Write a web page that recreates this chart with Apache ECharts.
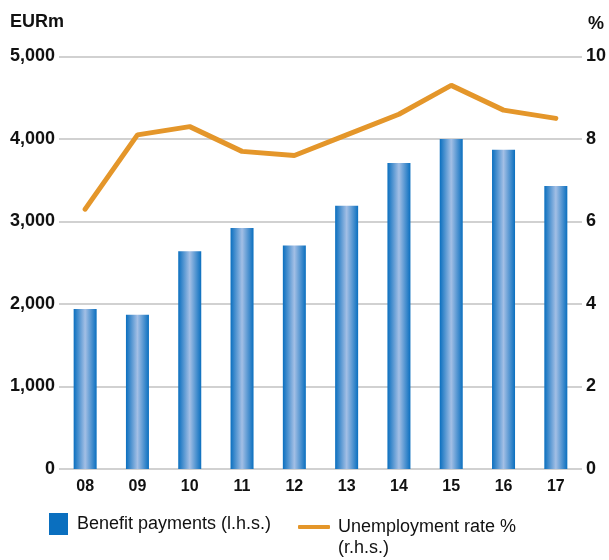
<!DOCTYPE html>
<html>
<head>
<meta charset="utf-8">
<script src="https://cdn.jsdelivr.net/npm/echarts@6/dist/echarts.min.js"></script>
<style>
html,body{margin:0;padding:0;background:#fff;}
#chart{width:609px;height:560px;}
</style>
</head>
<body>
<div id="chart"></div>
<script>
// data
var years = ['08', '09', '10', '11', '12', '13', '14', '15', '16', '17'];
var benefitPayments = [1940, 1870, 2640, 2920, 2710, 3190, 3710, 4000, 3870, 3430]; // EURm, l.h.s.
var unemploymentRate = [6.3, 8.1, 8.3, 7.7, 7.6, 8.1, 8.6, 9.3, 8.7, 8.5];      // %, r.h.s.
var leftTicks = [0, 1000, 2000, 3000, 4000, 5000];
var rightTicks = [0, 2, 4, 6, 8, 10];

var FONT = '"Liberation Sans", Arial, sans-serif';
var BLUE = '#0a6fbf';
var ORANGE = '#e4962a';
var INK = '#111';

function thousands(v) {
	return String(v).replace(/\B(?=(\d{3})+(?!\d))/g, ',');
}

var chart = echarts.init(document.getElementById('chart'));
var option = {
	animation: false,
	backgroundColor: '#fff',
	grid: { left: 59, right: 26, top: 56.5, bottom: 91, containLabel: false },
	legend: [
		{
			data: [{ name: 'Benefit payments (l.h.s.)', itemStyle: { color: BLUE } }],
			left: 49, top: 513, padding: 0,
			itemWidth: 19, itemHeight: 22,
			icon: 'rect',
			textStyle: { fontFamily: FONT, fontSize: 18, color: INK, padding: [0, 0, 0, 4] }
		},
		{
			data: ['Unemployment rate %'],
			left: 298, top: 518, padding: 0,
			itemWidth: 32, itemHeight: 4,
			icon: 'roundRect',
			textStyle: { fontFamily: FONT, fontSize: 18, color: INK, padding: [0, 0, 0, 3] }
		}
	],
	graphic: [
		{ type: 'text', left: 10, top: 13, style: { text: 'EURm', fontFamily: FONT, fontSize: 18, fontWeight: 'bold', fill: INK } },
		{ type: 'text', left: 588, top: 15, style: { text: '%', fontFamily: FONT, fontSize: 18, fontWeight: 'bold', fill: INK } },
		{ type: 'text', left: 338, top: 539, style: { text: '(r.h.s.)', fontFamily: FONT, fontSize: 18, fill: INK } }
	],
	xAxis: {
		type: 'category',
		data: years,
		axisLine: { show: false },
		axisTick: { show: false },
		axisLabel: { margin: 10, fontFamily: FONT, fontSize: 16, fontWeight: 'bold', color: INK }
	},
	yAxis: [
		{
			type: 'value',
			min: leftTicks[0], max: leftTicks[leftTicks.length - 1], interval: leftTicks[1] - leftTicks[0],
			axisLine: { show: false },
			axisTick: { show: false },
			splitLine: { lineStyle: { color: '#c2c2c2', width: 1.5 } },
			axisLabel: { margin: 4, fontFamily: FONT, fontSize: 18, fontWeight: 'bold', color: INK, formatter: thousands }
		},
		{
			type: 'value',
			position: 'right',
			min: rightTicks[0], max: rightTicks[rightTicks.length - 1], interval: rightTicks[1] - rightTicks[0],
			axisLine: { show: false },
			axisTick: { show: false },
			splitLine: { show: false },
			axisLabel: { margin: 4, fontFamily: FONT, fontSize: 18, fontWeight: 'bold', color: INK }
		}
	],
	series: [
		{
			name: 'Benefit payments (l.h.s.)',
			type: 'bar',
			yAxisIndex: 0,
			barWidth: 23,
			data: benefitPayments,
			itemStyle: {
				color: new echarts.graphic.LinearGradient(0, 0, 1, 0, [
					{ offset: 0, color: BLUE },
					{ offset: 0.5, color: '#a3bfe5' },
					{ offset: 1, color: BLUE }
				])
			}
		},
		{
			name: 'Unemployment rate %',
			type: 'line',
			yAxisIndex: 1,
			data: unemploymentRate,
			symbol: 'none',
			z: 5,
			itemStyle: { color: ORANGE },
			lineStyle: { color: ORANGE, width: 5, cap: 'round' }
		}
	]
};
chart.setOption(option);
</script>
</body>
</html>
